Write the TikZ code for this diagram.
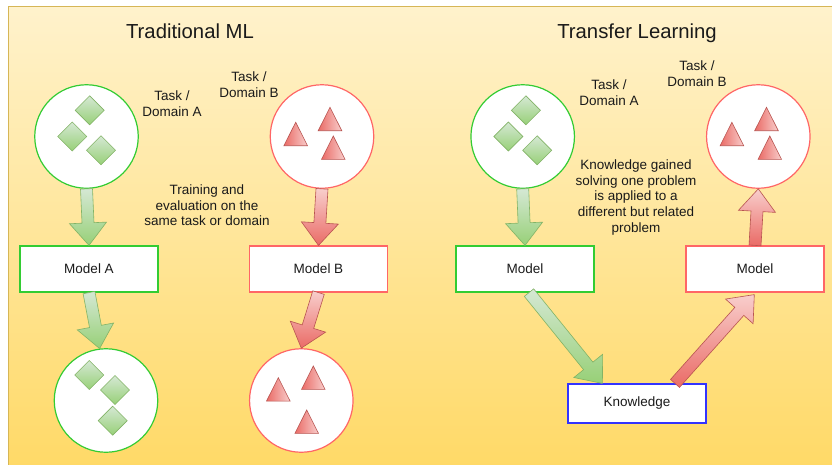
\documentclass[tikz,border=0pt]{standalone}
\usepackage{fontspec}
\setmainfont{Liberation Sans}
\usetikzlibrary{calc}
\definecolor{bgtop}{HTML}{FFF2CC}
\definecolor{bgbot}{HTML}{FFD966}
\definecolor{bgline}{HTML}{D6B656}
\definecolor{gline}{HTML}{33CC33}
\definecolor{rline}{HTML}{FF6666}
\definecolor{bline}{HTML}{3333FF}
\definecolor{gfillA}{HTML}{D5E8D4}
\definecolor{gfillB}{HTML}{97D077}
\definecolor{gstroke}{HTML}{82B366}
\definecolor{rfillA}{HTML}{F8CECC}
\definecolor{rfillB}{HTML}{EA6B66}
\definecolor{rstroke}{HTML}{B85450}
\definecolor{txt}{HTML}{1A1A1A}

\tikzset{
 bgbox/.style={draw=bgline, line width=1pt, top color=bgtop, bottom color=bgbot},
 circbase/.style={circle, fill=white, minimum size=103.5pt, inner sep=0pt, line width=1.2pt},
 circG/.style={circbase, draw=gline},
 circR/.style={circbase, draw=rline},
 boxbase/.style={rectangle, fill=white, minimum width=138pt, minimum height=46pt, inner sep=0pt, line width=1.2pt, text=txt, font=\fontsize{13.5}{15.8}\selectfont},
 boxG/.style={boxbase, draw=gline},
 boxR/.style={boxbase, draw=rline},
 boxB/.style={boxbase, draw=bline, minimum height=39pt},
 ttl/.style={font=\fontsize{20.3}{24}\selectfont, anchor=base, inner sep=0pt, text=txt},
 lbl/.style={font=\fontsize{13.5}{15.8}\selectfont, align=center, anchor=north, inner sep=0pt, text=txt},
 garrow/.style={draw=gstroke, line width=0.6pt, top color=gfillA, bottom color=gfillB},
 rarrow/.style={draw=rstroke, line width=0.6pt, top color=rfillA, bottom color=rfillB},
 diashape/.style={draw=gstroke, line width=0.6pt, top color=gfillA, bottom color=gfillB},
 trishape/.style={draw=rstroke, line width=0.6pt, left color=rfillB, right color=rfillA},
}

% block arrow from #1 to #2 (anchors / coordinates), style #3
\newcommand\blockarr[3]{%
  \coordinate (ba-h) at ($(#2)!22.5pt!(#1)$);
  \path[#3] ($(#1)!6pt!90:(#2)$) -- ($(ba-h)!6pt!90:(#2)$) -- ($(ba-h)!18.5pt!90:(#2)$)
    -- (#2) -- ($(ba-h)!18.5pt!-90:(#2)$) -- ($(ba-h)!6pt!-90:(#2)$) -- ($(#1)!6pt!-90:(#2)$) -- cycle;
}
\newcommand\mydia[2]{\path[diashape,shift={(#1,#2)}] (0,-14.5) -- (14.5,0) -- (0,14.5) -- (-14.5,0) -- cycle;}
\newcommand\mytri[2]{\path[trishape,shift={(#1,#2)}] (0,0) -- (11.8,23.4) -- (-11.8,23.4) -- cycle;}

\begin{document}
\begin{tikzpicture}[x=1pt,y=-1pt]
\useasboundingbox (0,0) rectangle (832,464);
\clip (0,0) rectangle (832,464);
\path[bgbox] (8,6) rectangle (840,472);

% titles
\node[ttl] (t1) at (190,38.3) {Traditional ML};
\node[ttl] (t2) at (637,38.3) {Transfer Learning};

% circles
\node[circG] (a1) at (86.5,136.5) {};
\node[circR] (b1) at (322,136.5) {};
\node[circG] (a2) at (106,400.5) {};
\node[circR] (b2) at (301.3,400.5) {};
\node[circG] (a3) at (522.7,136.5) {};
\node[circR] (b3) at (758.3,136.5) {};

% boxes
\node[boxG] (ma) at (89,269) {Model A};
\node[boxR] (mb) at (318.5,269) {Model B};
\node[boxG] (m1) at (525,269) {Model};
\node[boxR] (m2) at (755,269) {Model};
\node[boxB] (kn) at (637,403.5) {Knowledge};

% arrows
\blockarr{a1.south}{ma.north}{garrow}
\blockarr{b1.south}{mb.north}{rarrow}
\blockarr{ma.south}{a2.97}{garrow}
\blockarr{mb.south}{b2.north}{rarrow}
\blockarr{a3.south}{m1.north}{garrow}
\coordinate (k1s) at ($(m1.south)+(4,0)$);
\coordinate (k1e) at ($(kn.north west)+(35,0)$);
\blockarr{k1s}{k1e}{garrow}
\coordinate (k2s) at ($(kn.north)+(38,0)$);
\coordinate (k2e) at ($(m2.south)+(-0.7,2)$);
\blockarr{k2s}{k2e}{rarrow}
\blockarr{m2.north}{b3.south}{rarrow}

% diamonds
\mydia{89.7}{110.3}\mydia{72.2}{136.5}\mydia{101}{150.3}
\mydia{525.9}{110.3}\mydia{508.4}{136.5}\mydia{537.2}{150.3}
\mydia{89.3}{375}\mydia{115}{390}\mydia{112.7}{420.7}

% triangles
\mytri{295.7}{122.3}\mytri{330}{107.3}\mytri{333.3}{136}
\mytri{731.9}{122.3}\mytri{766.5}{107.3}\mytri{769.8}{136}
\mytri{278.3}{377.7}\mytri{313.3}{366}\mytri{306.7}{410}

% labels
\node[lbl] (la) at (172,90.7) {Task /\\Domain A};
\node[lbl] (lb) at (249,71.7) {Task /\\Domain B};
\node[lbl] (tr) at (207,184.3) {Training and\\evaluation on the\\same task or domain};
\node[lbl] (lc) at (609,80) {Task /\\Domain A};
\node[lbl] (ld) at (697,60.7) {Task /\\Domain B};
\node[lbl] (kg) at (636,159.3) {Knowledge gained\\solving one problem\\is applied to a\\different but related\\problem};
\end{tikzpicture}
\end{document}
